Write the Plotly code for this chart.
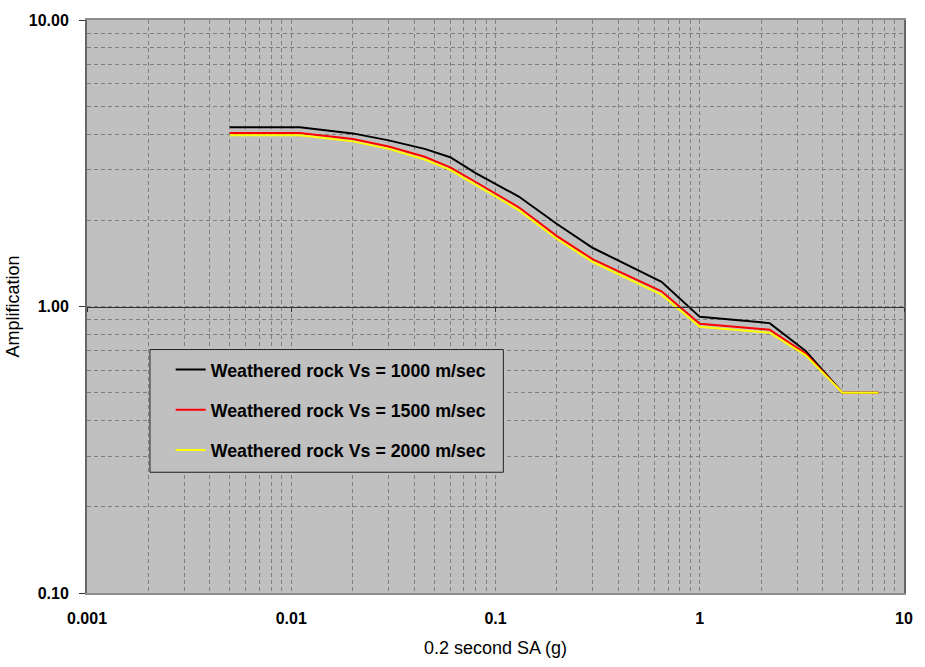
import plotly.graph_objects as go

# ---- data ----
sa_g = [0.005, 0.011, 0.02, 0.03, 0.045, 0.06, 0.08, 0.1, 0.13, 0.2, 0.3, 0.65, 1.0, 2.2, 3.3, 5.0, 7.5]
amp_vs1000 = [4.22, 4.22, 4.02, 3.80, 3.55, 3.32, 2.92, 2.68, 2.42, 1.94, 1.60, 1.22, 0.92, 0.875, 0.70, 0.50, 0.50]
amp_vs1500 = [4.03, 4.03, 3.84, 3.62, 3.33, 3.06, 2.72, 2.48, 2.22, 1.76, 1.46, 1.13, 0.87, 0.83, 0.685, 0.50, 0.50]
amp_vs2000 = [3.96, 3.96, 3.77, 3.55, 3.26, 3.00, 2.66, 2.43, 2.17, 1.72, 1.43, 1.10, 0.85, 0.81, 0.675, 0.50, 0.50]

series_names = ["Weathered rock Vs = 1000 m/sec",
                "Weathered rock Vs = 1500 m/sec",
                "Weathered rock Vs = 2000 m/sec"]
series_colors = ["#000000", "#ff0000", "#ffff00"]

x_tickvals = [0.001, 0.01, 0.1, 1, 10]
x_ticktext = ["0.001", "0.01", "0.1", "1", "10"]
y_tickvals = [0.1, 1, 10]
y_ticktext = ["0.10", "1.00", "10.00"]

x_minor = [m * 10 ** e for e in range(-3, 1) for m in range(2, 10)]
y_minor = [m * 10 ** e for e in range(-1, 1) for m in range(2, 10)]

FONT = "Arial, Liberation Sans, sans-serif"
GRID = "#808080"

fig = go.Figure()
for i, (name, ys, col) in enumerate(zip(series_names, [amp_vs1000, amp_vs1500, amp_vs2000], series_colors)):
    fig.add_trace(go.Scatter(
        x=sa_g, y=ys, mode="lines", name=name,
        line=dict(color=col, width=2),
        legendgroup=f"g{i}",
    ))

# invisible trace to carry the crossing axis at y = 1
fig.add_trace(go.Scatter(x=[None], y=[None], xaxis="x2", showlegend=False, hoverinfo="skip"))

fig.update_layout(
    width=925, height=667,
    margin=dict(l=83, r=12, t=17, b=71),
    paper_bgcolor="white",
    plot_bgcolor="#c0c0c0",
    font=dict(family=FONT, size=13, color="#000000"),
    showlegend=True,
    legend=dict(
        x=(168 - 83) / 830, y=(596 - 352) / 579,
        xanchor="left", yanchor="top",
        bgcolor="rgba(0,0,0,0)", borderwidth=0,
        font=dict(family=FONT, size=17.8, color="#000000", weight="bold"),
        traceorder="grouped", tracegroupgap=14,
        itemwidth=30,
    ),
    xaxis=dict(
        type="log", range=[-3, 1],
        tickvals=x_tickvals, ticktext=x_ticktext,
        tickfont=dict(family=FONT, size=16, weight="bold"),
        ticks="", ticklabelstandoff=10,
        showgrid=True, gridcolor=GRID, griddash="4px,3px", gridwidth=1,
        minor=dict(tickvals=x_minor, showgrid=True, gridcolor=GRID, griddash="4px,3px", gridwidth=1, ticks=""),
        showline=True, linecolor="#8c8c8c", linewidth=2, mirror=True,
        zeroline=False,
        title=dict(text="0.2 second SA (g)", font=dict(family=FONT, size=18), standoff=15),
    ),
    xaxis2=dict(
        type="log", range=[-3, 1], overlaying="x", anchor="free", position=0.5,
        side="bottom",
        tickvals=x_tickvals, showticklabels=False,
        ticks="outside", ticklen=4, tickcolor="#333333",
        showline=True, linecolor="#333333", linewidth=1,
        showgrid=False, zeroline=False,
    ),
    yaxis=dict(
        type="log", range=[-1, 1],
        tickvals=y_tickvals, ticktext=y_ticktext,
        tickfont=dict(family=FONT, size=16, weight="bold"),
        ticks="outside", ticklen=6, tickcolor="#333333",
        ticklabelstandoff=7,
        showgrid=True, gridcolor=GRID, griddash="4px,3px", gridwidth=1,
        minor=dict(tickvals=y_minor, showgrid=True, gridcolor=GRID, griddash="4px,3px", gridwidth=1, ticks=""),
        showline=True, linecolor="#666666", linewidth=2, mirror=True,
        zeroline=False,
        title=dict(text="Amplification", font=dict(family=FONT, size=18), standoff=4),
    ),
    shapes=[dict(
        type="rect", xref="paper", yref="paper",
        x0=(147 - 83) / 830, x1=(506 - 83) / 830,
        y0=(596 - 474) / 579, y1=(596 - 350) / 579,
        line=dict(color="#222222", width=1), fillcolor="#c0c0c0", layer="above",
    )],
)

fig.write_html("out.html")
